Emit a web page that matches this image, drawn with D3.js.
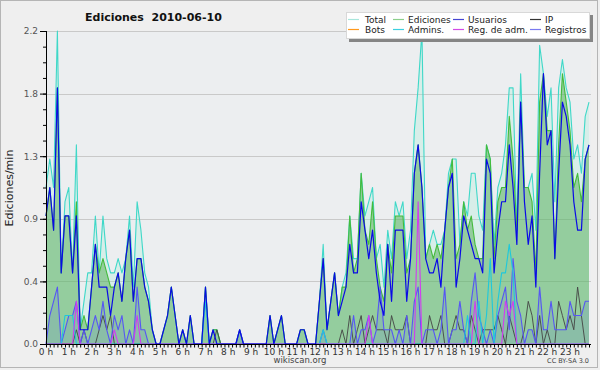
<!DOCTYPE html>
<html>
<head>
<meta charset="utf-8">
<script src="https://cdn.jsdelivr.net/npm/d3@7"></script>
<style>
  html, body { margin: 0; padding: 0; background: #efefef; }
  svg { display: block; font-family: "DejaVu Sans", sans-serif; }
</style>
</head>
<body>
<svg id="chart" width="600" height="370"></svg>
<script>
// ── Data (edits per minute, one value per 10-minute slot, 00:00 → 23:50) ──
const hourLabels = ['0 h','1 h','2 h','3 h','4 h','5 h','6 h','7 h','8 h','9 h','10 h','11 h',
  '12 h','13 h','14 h','15 h','16 h','17 h','18 h','19 h','20 h','21 h','22 h','23 h'];
const yTicks = [0, 0.44, 0.88, 1.32, 1.76, 2.2];

const total = [
  1.1, 1.3, 1.1, 2.2, 0.5, 1.0, 1.1, 0.5, 1.4, 0.1, 0.3, 0.5,
  0.5, 0.9, 0.5, 0.9, 0.6, 0.5, 0.5, 0.6, 0.5, 0.6, 0.9, 0.4,
  1.0, 0.8, 0.5, 0.4, 0.1, 0, 0, 0.1, 0.2, 0.4, 0.2, 0,
  0.1, 0, 0.2, 0, 0, 0, 0.4, 0, 0.1, 0.1, 0, 0,
  0, 0, 0, 0.1, 0, 0, 0, 0, 0, 0, 0, 0.2,
  0, 0.1, 0.2, 0, 0, 0, 0, 0.1, 0.1, 0, 0, 0,
  0.3, 0.7, 0.1, 0.3, 0.5, 0.2, 0.4, 0.5, 0.9, 0.6, 0.6, 1.2,
  0.9, 1.0, 1.1, 0.6, 0.7, 0.4, 0.8, 0.6, 1.0, 0.9, 1.0, 0.6,
  0.8, 1.5, 1.8, 2.2, 0.6, 0.7, 0.8, 0.7, 0.7, 0.8, 1.2, 1.3,
  1.3, 0.7, 1.0, 0.9, 1.2, 1.2, 0.9, 0.8, 1.4, 1.3, 0.7, 1.1,
  1.2, 1.4, 1.8, 1.8, 0.8, 1.9, 1.1, 1.1, 1.2, 0.8, 2.1, 1.9,
  1.6, 1.8, 1.0, 1.8, 2.0, 1.8, 1.7, 1.3, 1.4, 1.2, 1.6, 1.7
];
const ediciones = [
  0.9, 1.1, 0.8, 1.8, 0.5, 0.9, 0.9, 0.5, 1.0, 0.1, 0.2, 0.1,
  0.4, 0.7, 0.5, 0.6, 0.5, 0.4, 0.4, 0.5, 0.3, 0.6, 0.8, 0.3,
  0.6, 0.6, 0.4, 0.3, 0.1, 0, 0, 0.1, 0.2, 0.4, 0.2, 0,
  0.1, 0, 0.2, 0, 0, 0, 0.4, 0, 0.1, 0.1, 0, 0,
  0, 0, 0, 0.1, 0, 0, 0, 0, 0, 0, 0, 0.2,
  0, 0.1, 0.2, 0, 0, 0, 0, 0.1, 0.1, 0, 0, 0,
  0.3, 0.6, 0.1, 0.3, 0.5, 0.2, 0.4, 0.4, 0.9, 0.5, 0.6, 1.2,
  0.8, 0.7, 1.0, 0.6, 0.4, 0.3, 0.7, 0.5, 0.9, 0.9, 0.9, 0.5,
  0.6, 1.2, 1.4, 1.1, 0.6, 0.7, 0.6, 0.7, 0.6, 0.8, 1.1, 1.3,
  0.6, 0.7, 1.0, 0.8, 0.9, 0.7, 0.6, 0.6, 1.4, 1.3, 0.6, 1.0,
  1.1, 1.1, 1.6, 1.3, 0.8, 1.7, 1.1, 1.1, 1.0, 0.5, 1.7, 1.9,
  1.5, 1.5, 0.6, 1.4, 1.9, 1.7, 1.5, 1.1, 1.2, 1.0, 1.3, 1.4
];
const usuarios = [
  0.9, 1.1, 0.8, 1.8, 0.5, 0.9, 0.9, 0.5, 0.9, 0.1, 0.1, 0.1,
  0.4, 0.7, 0.4, 0.4, 0.4, 0.2, 0.4, 0.5, 0.3, 0.6, 0.8, 0.3,
  0.6, 0.6, 0.4, 0.3, 0.1, 0, 0, 0.1, 0.2, 0.4, 0.2, 0,
  0.1, 0, 0.2, 0, 0, 0, 0.4, 0, 0.1, 0, 0, 0,
  0, 0, 0, 0.1, 0, 0, 0, 0, 0, 0, 0, 0.2,
  0, 0.1, 0.2, 0, 0, 0, 0, 0.1, 0.1, 0, 0, 0,
  0.3, 0.6, 0.1, 0.3, 0.5, 0.2, 0.3, 0.4, 0.7, 0.5, 0.5, 1.0,
  0.8, 0.6, 0.8, 0.5, 0.3, 0.2, 0.7, 0.3, 0.8, 0.8, 0.8, 0.3,
  0.6, 1.2, 1.4, 1.1, 0.6, 0.5, 0.5, 0.6, 0.4, 0.8, 1.1, 1.2,
  0.4, 0.6, 0.9, 0.8, 0.7, 0.6, 0.6, 0.5, 1.3, 1.2, 0.5, 0.8,
  1.0, 1.0, 1.4, 1.1, 0.7, 1.7, 1.0, 0.7, 0.9, 0.4, 1.2, 1.9,
  1.4, 1.5, 0.6, 1.2, 1.7, 1.6, 1.4, 1.0, 0.8, 0.8, 1.3, 1.4
];
const ip = [
  0, 0, 0, 0, 0, 0, 0, 0, 0.1, 0, 0.1, 0,
  0, 0, 0.1, 0.2, 0.1, 0.2, 0, 0, 0, 0, 0, 0,
  0, 0, 0, 0, 0, 0, 0, 0, 0, 0, 0, 0,
  0, 0, 0, 0, 0, 0, 0, 0, 0, 0.1, 0, 0,
  0, 0, 0, 0, 0, 0, 0, 0, 0, 0, 0, 0,
  0, 0, 0, 0, 0, 0, 0, 0, 0, 0, 0, 0,
  0, 0, 0, 0, 0, 0, 0.1, 0, 0.2, 0, 0.1, 0.2,
  0, 0.1, 0.2, 0.1, 0.1, 0.1, 0, 0.2, 0.1, 0.1, 0.1, 0.2,
  0, 0, 0, 0, 0, 0.2, 0.1, 0.1, 0.2, 0, 0, 0.1,
  0.2, 0.1, 0.1, 0, 0.2, 0.1, 0, 0.1, 0.1, 0.1, 0.1, 0.2,
  0.1, 0, 0.2, 0.1, 0, 0, 0.1, 0.3, 0.2, 0, 0.2, 0,
  0.1, 0, 0, 0.3, 0.2, 0.1, 0.2, 0.1, 0.4, 0.2, 0, 0
];
const registros = [
  0, 0.2, 0.3, 0.4, 0, 0.1, 0.2, 0.2, 0.3, 0, 0.1, 0,
  0.1, 0.2, 0.1, 0.3, 0.1, 0, 0.2, 0.1, 0.2, 0, 0.1, 0,
  0.4, 0.1, 0.1, 0, 0, 0, 0, 0, 0, 0, 0, 0,
  0, 0, 0, 0, 0, 0, 0, 0, 0, 0, 0, 0,
  0, 0, 0, 0.1, 0, 0, 0, 0, 0, 0, 0, 0,
  0, 0, 0, 0, 0, 0, 0, 0, 0, 0, 0, 0,
  0, 0.1, 0, 0, 0, 0, 0, 0, 0, 0.2, 0, 0.1,
  0.1, 0.2, 0, 0.1, 0.4, 0.1, 0.1, 0.1, 0, 0.1, 0, 0.2,
  0, 0.3, 0.4, 0, 0.1, 0.1, 0.1, 0, 0.1, 0.4, 0, 0.1,
  0.1, 0.3, 0.1, 0, 0.3, 0.5, 0.2, 0.1, 0, 0.1, 0, 0.2,
  0.3, 0.4, 0.1, 0.6, 0.3, 0.2, 0, 0.1, 0.1, 0, 0.4, 0.1,
  0.1, 0.3, 0.1, 0.1, 0.1, 0.1, 0.3, 0.2, 0.2, 0.2, 0.3, 0.3
];
const admins = [
  0, 0, 0, 0, 0, 0.2, 0.2, 0.2, 0, 0, 0, 0,
  0, 0, 0, 0, 0, 0, 0, 0, 0, 0, 0, 0,
  0, 0, 0, 0, 0, 0, 0, 0, 0, 0, 0, 0,
  0, 0, 0, 0, 0, 0, 0.3, 0, 0, 0, 0, 0,
  0, 0, 0, 0, 0, 0, 0, 0, 0, 0, 0, 0,
  0, 0, 0, 0, 0, 0, 0, 0, 0, 0, 0, 0,
  0, 0.1, 0, 0, 0, 0, 0, 0, 0, 0, 0, 0,
  0, 0, 0, 0, 0, 0, 0, 0, 0, 0, 0, 0,
  0, 0, 0, 0, 0, 0, 0, 0, 0, 0, 0, 0,
  0, 0, 0, 0.2, 0, 0, 0.3, 0, 0.2, 0.6, 0, 0.3,
  0.5, 0.5, 0.7, 0.5, 0, 0, 0, 0, 0, 0, 0, 0,
  0, 0, 0, 0, 0, 0, 0, 0, 0, 0, 0, 0
];
const regAdm = [
  0, 0, 0, 0, 0, 0, 0, 0, 0.3, 0, 0, 0,
  0, 0, 0, 0, 0, 0, 0.1, 0, 0, 0, 0, 0,
  0.2, 0, 0, 0, 0, 0, 0, 0, 0, 0, 0, 0,
  0, 0, 0, 0, 0, 0, 0, 0, 0, 0, 0, 0,
  0, 0, 0, 0, 0, 0, 0, 0, 0, 0, 0, 0,
  0, 0, 0, 0, 0, 0, 0, 0, 0, 0, 0, 0,
  0, 0, 0, 0, 0, 0, 0, 0, 0, 0, 0, 0,
  0, 0.2, 0, 0, 0, 0, 0, 0, 0, 0, 0, 0,
  0, 0, 1.0, 0, 0, 0, 0, 0, 0, 0, 0, 0,
  0, 0, 0, 0, 0, 0.3, 0, 0, 0, 0, 0, 0,
  0, 0.3, 0.2, 0.3, 0, 0, 0, 0, 0, 0, 0, 0,
  0, 0, 0, 0, 0, 0, 0, 0, 0, 0, 0, 0
];
const bots = []; // nothing logged this day

// ── Scales ─────────────────────────────────────────────────────────────────
const svg = d3.select('#chart');
const x = d3.scaleLinear().domain([0, 1430]).range([46, 589]);   // minutes
const y = d3.scaleLinear().domain([0, 2.2]).range([344, 31]);

// frame + plot background
svg.append('rect').attr('x', 0.5).attr('y', 0.5).attr('width', 597).attr('height', 367)
  .attr('fill', '#efefef').attr('stroke', '#b5b5b5');
svg.append('rect').attr('x', 46).attr('y', 31).attr('width', 545).attr('height', 313)
  .attr('fill', '#eceef0');

// grid
svg.append('g').selectAll('line').data(yTicks.slice(1)).join('line')
  .attr('x1', 46).attr('x2', 591)
  .attr('y1', d => Math.round(y(d)) + 0.5).attr('y2', d => Math.round(y(d)) + 0.5)
  .attr('stroke', '#c9c9c9');

// ── Series ────────────────────────────────────────────────────────────────
const area = d3.area().x((d, i) => x(i * 10)).y0(y(0)).y1(d => y(d));
const line = d3.line().x((d, i) => x(i * 10)).y(d => y(d));

svg.append('path').datum(total).attr('d', area).attr('fill', 'rgba(140,240,210,0.22)');
svg.append('path').datum(ediciones).attr('d', area).attr('fill', 'rgba(70,165,70,0.46)');
svg.append('path').datum(registros).attr('d', area).attr('fill', 'rgba(80,100,230,0.14)');

const series = [
  { data: total,     color: '#3fd8c8', w: 1.1 },
  { data: ediciones, color: '#44bb3c', w: 1.1 },
  { data: ip,        color: '#444444', w: 0.9 },
  { data: registros, color: '#5656f4', w: 1.1 },
  { data: admins,    color: '#1ec8dc', w: 1.1 },
  { data: regAdm,    color: '#d23cf0', w: 1.1 },
  { data: usuarios,  color: '#0a0ae6', w: 1.2 },
];
series.forEach(s => {
  svg.append('path').datum(s.data).attr('d', line)
    .attr('fill', 'none').attr('stroke', s.color).attr('stroke-width', s.w)
    .attr('stroke-linejoin', 'round');
});

// ── Axes ──────────────────────────────────────────────────────────────────
const yMinor = d3.range(0, 2.2001, 0.11);
svg.append('g').attr('transform', 'translate(46,0)')
  .call(d3.axisLeft(y).tickValues(yMinor).tickSize(3).tickFormat(''))
  .call(g => g.select('.domain').remove());
const yAx = svg.append('g').attr('transform', 'translate(46,0)')
  .call(d3.axisLeft(y).tickValues(yTicks).tickSize(6).tickPadding(2).tickFormat(d3.format('.1f')));
yAx.select('.domain').attr('d', 'M0.5,31V344.5');
yAx.selectAll('text').attr('font-size', 9).attr('fill', '#555').attr('font-family', '"DejaVu Sans", sans-serif');

const xAx = svg.append('g').attr('transform', 'translate(0,344)')
  .call(d3.axisBottom(x).tickValues(d3.range(0, 1440, 10)).tickSize(3.5).tickFormat(''));
xAx.select('.domain').attr('d', 'M46,0.5H591');
xAx.selectAll('.tick line').attr('stroke-width', 1);

svg.append('g').selectAll('text').data(hourLabels).join('text')
  .attr('x', (d, i) => x(i * 60)).attr('y', 354.5)
  .attr('text-anchor', 'middle').attr('font-size', 9).attr('fill', '#333')
  .text(d => d);

// labels
svg.append('text').attr('x', 85).attr('y', 21)
  .attr('font-size', 11).attr('font-weight', 'bold').attr('fill', '#111')
  .attr('xml:space', 'preserve').text('Ediciones  2010-06-10');
svg.append('text').attr('transform', 'translate(13,188) rotate(-90)')
  .attr('text-anchor', 'middle').attr('font-size', 11).attr('fill', '#222')
  .text('Ediciones/min');
svg.append('text').attr('x', 300).attr('y', 363).attr('text-anchor', 'middle')
  .attr('font-size', 8.5).attr('fill', '#444').text('wikiscan.org');
svg.append('text').attr('x', 589).attr('y', 363).attr('text-anchor', 'end')
  .attr('font-size', 6.5).attr('fill', '#444').text('CC BY-SA 3.0');

// ── Legend ────────────────────────────────────────────────────────────────
const legendItems = [
  { name: 'Total',        color: '#a8e6dc', col: 0, row: 0 },
  { name: 'Ediciones',    color: '#8ccf8c', col: 1, row: 0 },
  { name: 'Usuarios',     color: '#4646d2', col: 2, row: 0 },
  { name: 'IP',           color: '#333333', col: 3, row: 0 },
  { name: 'Bots',         color: '#ff9a1e', col: 0, row: 1 },
  { name: 'Admins.',      color: '#3cd0e0', col: 1, row: 1 },
  { name: 'Reg. de adm.', color: '#d24be6', col: 2, row: 1 },
  { name: 'Registros',    color: '#7a7af0', col: 3, row: 1 },
];
const colLine = [348, 393, 453, 530];
const colText = [365, 408, 468, 545];
const lg = svg.append('g');
lg.append('rect').attr('x', 349).attr('y', 15).attr('width', 244).attr('height', 27).attr('fill', '#858585');
lg.append('rect').attr('x', 346.5).attr('y', 12.5).attr('width', 243).attr('height', 26)
  .attr('fill', '#fff').attr('stroke', '#d8d8d8');
const li = lg.selectAll('g.item').data(legendItems).join('g').attr('class', 'item');
li.append('line')
  .attr('x1', d => colLine[d.col]).attr('x2', d => colLine[d.col] + 11)
  .attr('y1', d => 19.5 + d.row * 10).attr('y2', d => 19.5 + d.row * 10)
  .attr('stroke', d => d.color).attr('stroke-width', 1.2);
li.append('text')
  .attr('x', d => colText[d.col]).attr('y', d => 22.8 + d.row * 10)
  .attr('font-size', 9).attr('fill', '#222').text(d => d.name);
</script>
</body>
</html>
